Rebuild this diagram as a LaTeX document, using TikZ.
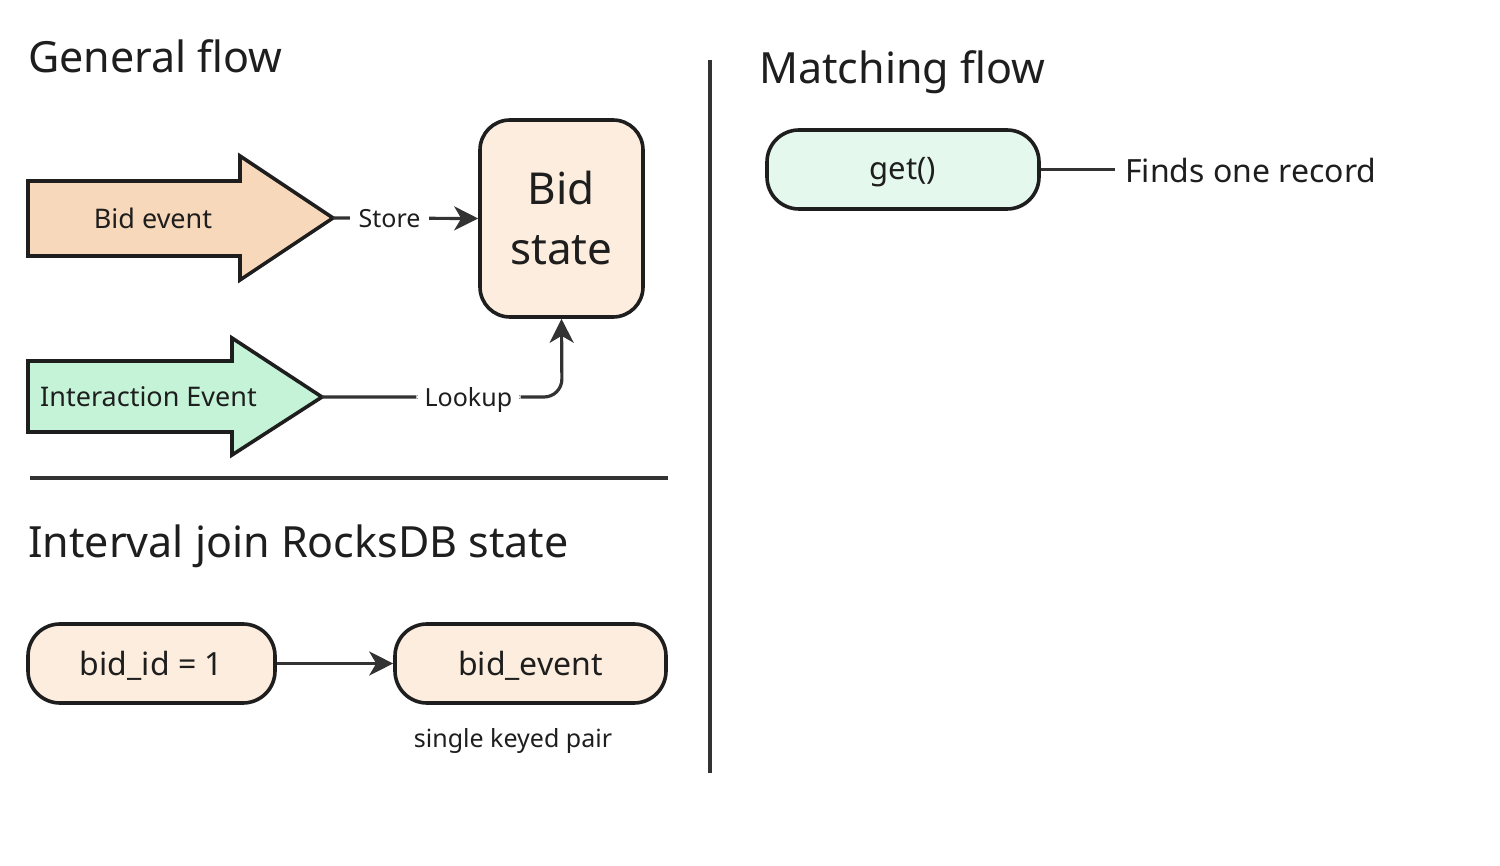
\documentclass[tikz,border=0pt]{standalone}
\usepackage{fontspec}
\setmainfont{Noto Sans}
\usetikzlibrary{arrows.meta}
\definecolor{ink}{HTML}{1E1E1E}
\definecolor{linec}{HTML}{333333}
\definecolor{peach}{HTML}{F8D8BA}
\definecolor{peachlt}{HTML}{FDEDDE}
\definecolor{mint}{HTML}{C5F3D8}
\definecolor{mintlt}{HTML}{E5F8EE}
\newcommand{\dn}[2]{\raisebox{-#1}[\height][\depth]{#2}}
\tikzset{
  shapeline/.style={draw=ink, line width=3.6pt, line join=miter},
  conn/.style={draw=linec, line width=3.2pt},
  tipped/.style={conn, -{Stealth[length=24pt,width=24pt,inset=7pt]}},
  pill/.style={shapeline, rounded corners=32pt, minimum height=79pt, text=ink, font=\fontsize{32}{38}\selectfont, inner sep=0pt},
  title/.style={anchor=base west, text=ink, inner sep=0pt, font=\fontsize{43}{52}\selectfont},
  lbl/.style={text=ink, inner sep=0pt, fill=white},
}
\begin{document}
\begin{tikzpicture}[x=1pt,y=-1pt]
\useasboundingbox[fill=white] (0,0) rectangle (1500,866);

% titles
\node[title] (t1) at (28,73) {General flow};
\node[title] (t2) at (759,84) {Matching flow};
\node[title] (t3) at (28,557) {Interval join RocksDB state};

% separators
\coordinate (v1) at (710,60); \coordinate (v2) at (710,773);
\draw[conn] (v1) -- (v2);
\coordinate (h1) at (30,478); \coordinate (h2) at (668,478);
\draw[conn] (h1) -- (h2);

% Bid event arrow
\filldraw[shapeline, fill=peach] (28,181) -- (240,181) -- (240,156) -- (333,218) -- (240,280) -- (240,256) -- (28,256) -- cycle;
\coordinate (bidtip) at (333,218);
\node[text=ink, inner sep=0pt, font=\fontsize{27}{30}\selectfont] (bidlbl) at (153,218) {Bid event};

% Interaction arrow
\filldraw[shapeline, fill=mint] (28,361) -- (232,361) -- (232,338) -- (322,397) -- (232,455) -- (232,432) -- (28,432) -- cycle;
\coordinate (inttip) at (322,397);
\node[text=ink, inner sep=0pt, anchor=west, font=\fontsize{27}{30}\selectfont] (intlbl) at (40,397) {Interaction Event};

% Bid state
\node[shapeline, fill=peachlt, rounded corners=30pt, minimum width=163pt, minimum height=197pt, inner sep=0pt, text=ink, align=center, font=\fontsize{44}{60}\selectfont] (state) at (561.5,218.5) {Bid\\state};

% Store
\draw[tipped] (bidtip) -- node[lbl, pos=0.39, font=\fontsize{25}{28}\selectfont] {\,\,Store\,\,} (state.west);
% Lookup
\coordinate (lkc) at (562,397);
\draw[tipped, rounded corners=18pt] (inttip) -- node[lbl, pos=0.61, font=\fontsize{25}{28}\selectfont] {\,\,\dn{3pt}{Lookup}\,\,} (lkc) -- (state.south);

% RocksDB
\node[pill, fill=peachlt, minimum width=247pt] (key) at (151.5,663.5) {\dn{2pt}{bid\_id = 1}};
\node[pill, fill=peachlt, minimum width=271pt] (val) at (530.5,663.5) {\dn{2pt}{bid\_event}};
\draw[tipped] (key.east) -- (val.west);
\node[text=ink, inner sep=0pt, font=\fontsize{25}{28}\selectfont] (note) at (513,741) {single keyed pair};

% Matching
\node[pill, fill=mintlt, minimum width=272pt, font=\fontsize{31}{36}\selectfont] (get) at (903,169.5) {\dn{3pt}{get()}};
\node[text=ink, inner sep=0pt, anchor=west, font=\fontsize{32}{36}\selectfont] (finds) at (1125,170.5) {Finds one record};
\coordinate (fe) at (1115,169.5);
\draw[conn] (get.east) -- (fe);
\end{tikzpicture}
\end{document}
